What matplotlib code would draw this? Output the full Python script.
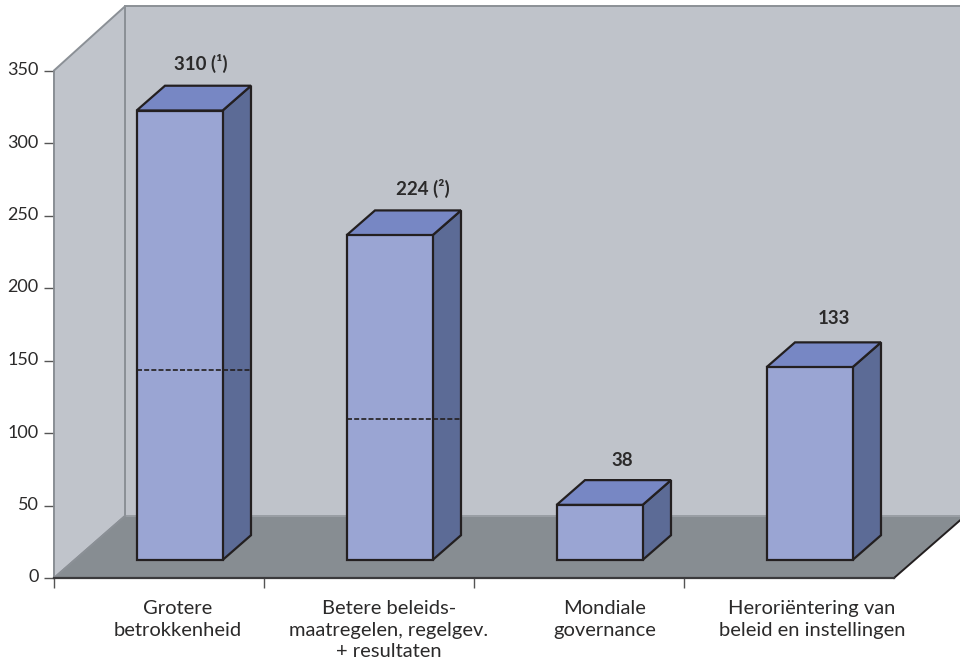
import matplotlib
matplotlib.use("Agg")
import matplotlib.pyplot as plt
from matplotlib.patches import Polygon
from matplotlib.transforms import ScaledTranslation

plt.rcParams['font.family'] = ['Lato', 'DejaVu Sans']

categories = ['Grotere\nbetrokkenheid',
              'Betere beleids-\nmaatregelen, regelgev.\n+ resultaten',
              'Mondiale\ngovernance',
              'Heroriëntering van\nbeleid en instellingen']
values = [310, 224, 38, 133]
value_labels = ['310 (¹)', '224 (²)', '38', '133']
dashed_values = [131, 97, None, None]
y_ticks = [0, 50, 100, 150, 200, 250, 300, 350]

# pixel layout of the picture
W, H = 960, 666
PX_X = 210.0   # pixels per category
PX_Y = 72.5 / 50  # pixels per value unit
X0, Y0 = 54, 578

# oblique depth of the floor, in data units
DX = 71 / PX_X
DY = 62 / PX_Y
BAR_W = 86 / PX_X
BAR_FRONT = 0.29
BAR_BACK = 0.69

# hand nudges for the labels, in pixels
label_dx = [-5, 7, -4, -2]
label_dy = [0, -1, -3, 1]
cat_dx = [-2, -1, 5, 2]

TEXT = '#2b2a2a'
EDGE = '#231f20'


def proj(x, y, d):
    """front plane position pushed back by depth d (0 front, 1 back wall)"""
    return (x + d * DX, y + d * DY)


fig = plt.figure(figsize=(W / 100, H / 100), dpi=100)
ax = fig.add_axes([0, 0, 1, 1])
ax.set_xlim(-X0 / PX_X, (W - X0) / PX_X)
ax.set_ylim((Y0 - H) / PX_Y, Y0 / PX_Y)
ax.patch.set_visible(False)

n = len(categories)
top = y_ticks[-1]
wall_top = top + 1.5

# walls and floor
ax.add_patch(Polygon([proj(0, 0, 1), proj(n + 1, 0, 1), proj(n + 1, wall_top, 1), proj(0, wall_top, 1)],
                     fc='#bfc3ca', ec='#8b9096', lw=1.4, zorder=1))
ax.add_patch(Polygon([proj(0, 0, 0), proj(0, 0, 1), proj(0, wall_top, 1), proj(0, top, 0)],
                     fc='#c0c4cb', ec='#8b9096', lw=1.4, zorder=1.1))
ax.add_patch(Polygon([proj(0, 0, 0), proj(n, 0, 0), proj(n, 0, 1), proj(0, 0, 1)],
                     fc='#878d92', ec='none', zorder=1.2))
ax.plot(*zip(proj(n, 0, 0), proj(n, 0, 1)), color=EDGE, lw=1.4, zorder=1.3)
ax.plot(*zip(proj(0, 0, 1), proj(n + 1, 0, 1)), color='#9a9fa5', lw=1.4, zorder=1.3)
ax.plot(*zip(proj(0, 0, 0), proj(0, 0, 1)), color='#8b9096', lw=1.4, zorder=1.3)

# bars
for i, v in enumerate(values):
    x1 = i + (1 - BAR_W) / 2
    x2 = x1 + BAR_W
    face = [proj(x1, 0, BAR_FRONT), proj(x2, 0, BAR_FRONT), proj(x2, v, BAR_FRONT), proj(x1, v, BAR_FRONT)]
    side = [proj(x2, 0, BAR_FRONT), proj(x2, 0, BAR_BACK), proj(x2, v, BAR_BACK), proj(x2, v, BAR_FRONT)]
    lid = [proj(x1, v, BAR_FRONT), proj(x2, v, BAR_FRONT), proj(x2, v, BAR_BACK), proj(x1, v, BAR_BACK)]
    ax.add_patch(Polygon(side, fc='#5c6b96', ec=EDGE, lw=1.6, joinstyle='miter', zorder=3))
    ax.add_patch(Polygon(lid, fc='#7787c4', ec=EDGE, lw=1.6, joinstyle='miter', zorder=3))
    ax.add_patch(Polygon(face, fc='#9aa5d3', ec=EDGE, lw=1.6, joinstyle='miter', zorder=3.1))

    if dashed_values[i] is not None:
        d = dashed_values[i]
        a = proj(x1, d, BAR_FRONT)
        b = proj(x2, d, BAR_FRONT)
        c = (proj(x2, 0, BAR_BACK)[0], b[1])
        ax.plot([a[0], b[0], c[0]], [a[1], b[1], c[1]], color=EDGE, lw=1.2,
                ls=(0, (3, 1.3)), zorder=3.2)

    lx, ly = proj(x1 + BAR_W / 2, v, BAR_BACK)
    ax.text(lx - 0.01 + label_dx[i] / PX_X, ly + 15.5 + label_dy[i] / PX_Y, value_labels[i],
            ha='center', va='center', fontsize=13.5, fontweight='bold', color=TEXT, zorder=4)

# axes, moved onto the front plane
for s in ['top', 'right']:
    ax.spines[s].set_visible(False)
ax.spines['left'].set_position(('data', 0))
ax.spines['left'].set_bounds(0, top)
ax.spines['left'].set_color('#8b9096')
ax.spines['left'].set_linewidth(1.2)
ax.spines['bottom'].set_position(('data', 0))
ax.spines['bottom'].set_bounds(0, n)
ax.spines['bottom'].set_color('#3a3a3c')
ax.spines['bottom'].set_linewidth(1.6)

ax.set_yticks(y_ticks)
ax.tick_params(axis='y', length=7, width=1, color='#555555', pad=4, labelsize=13, labelcolor=TEXT)
# reference numbers sit a little above their ticks
up = ScaledTranslation(0, 2 / 100, fig.dpi_scale_trans)
for lab in ax.get_yticklabels():
    lab.set_transform(lab.get_transform() + up)

ax.set_xticks(list(range(n)))
ax.set_xticklabels([''] * n)
ax.tick_params(axis='x', which='major', length=7.5, width=1, color='#555555')
ax.set_xticks([i + 0.6 + cat_dx[i] / PX_X for i in range(n)], minor=True)
ax.set_xticklabels(categories, minor=True, fontsize=14.5, color=TEXT, linespacing=1.32)
ax.tick_params(axis='x', which='minor', length=0, pad=16)

fig.savefig('out.png', dpi=100)
